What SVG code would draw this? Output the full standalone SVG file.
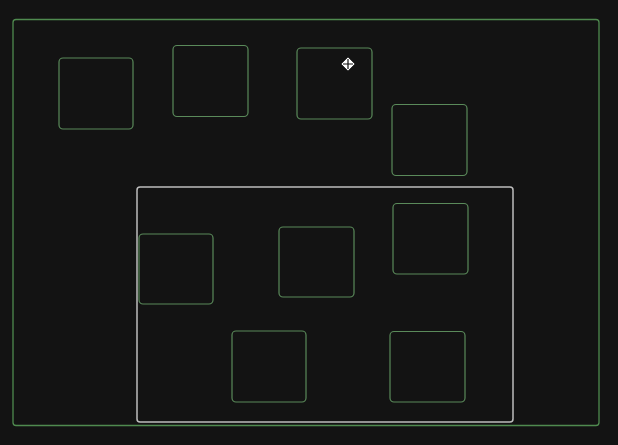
<svg xmlns="http://www.w3.org/2000/svg" width="618" height="445" viewBox="0 0 618 445">
<style>
.bg{fill:#131313}
.outer{fill:none;stroke:#4f8a4f;stroke-width:1.3}
.inner{fill:none;stroke:#bdbdbd;stroke-width:1.5}
.node{fill:#131313;stroke:#5a8a5a;stroke-width:1.2}
</style>
<rect class="bg" x="0" y="0" width="618" height="445"/>
<g id="outer-frame"><rect class="outer" x="13" y="19.5" width="586" height="406" rx="3"/></g>
<g id="inner-frame"><rect class="inner" x="137" y="187" width="376" height="235" rx="3"/></g>
<g id="node1"><rect class="node" x="59" y="58" width="74" height="71" rx="4"/></g>
<g id="node2"><rect class="node" x="173" y="45.5" width="75" height="71" rx="4"/></g>
<g id="node3"><rect class="node" x="297" y="48" width="75" height="71" rx="4"/></g>
<g id="node4"><rect class="node" x="392" y="104.5" width="75" height="71" rx="4"/></g>
<g id="node5"><rect class="node" x="139" y="234" width="74" height="70" rx="4"/></g>
<g id="node6"><rect class="node" x="279" y="227" width="75" height="70" rx="4"/></g>
<g id="node7"><rect class="node" x="393" y="203.5" width="75" height="70.5" rx="4"/></g>
<g id="node8"><rect class="node" x="232" y="331" width="74" height="71" rx="4"/></g>
<g id="node9"><rect class="node" x="390" y="331.5" width="75" height="70.5" rx="4"/></g>
<g id="connectors"></g>
<g id="cursor" transform="translate(348,64)">
<polygon points="0,-7 7,0 0,7 -7,0" fill="#ffffff" stroke="#222" stroke-width="0.8"/>
<path d="M0,-5V5M-5,0H5" stroke="#111" stroke-width="1.2"/>
</g>
</svg>
